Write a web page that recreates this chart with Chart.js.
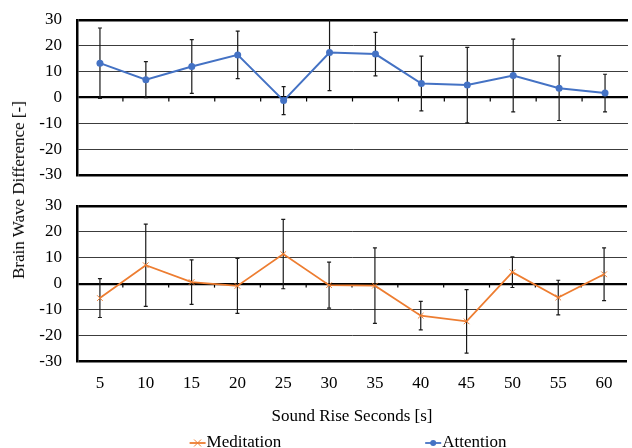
<!DOCTYPE html>
<html>
<head>
<meta charset="utf-8">
<script src="https://cdn.jsdelivr.net/npm/chart.js@4/dist/chart.umd.min.js"></script>
<style>
  html, body { margin: 0; padding: 0; background: #fff; }
  #wrap { position: relative; width: 632px; height: 448px; overflow: hidden; }
  #chart-top { position: absolute; left: 0; top: 0; }
  #chart-bottom { position: absolute; left: 0; top: 190px; }
  #y-title {
    position: absolute; left: 19px; top: 190px;
    transform: translate(-50%, -50%) rotate(-90deg);
    font-family: "Liberation Serif", serif; font-size: 17px; color: #000;
    white-space: nowrap;
  }
</style>
</head>
<body>
<div id="wrap">
  <canvas id="chart-top" width="632" height="190"></canvas>
  <canvas id="chart-bottom" width="632" height="258"></canvas>
  <div id="y-title">Brain Wave Difference [-]</div>
</div>
<script>
// Dati
const seconds = ['5', '10', '15', '20', '25', '30', '35', '40', '45', '50', '55', '60'];
const attentionMean = [13.3, 6.9, 12.0, 16.5, -1.2, 17.4, 16.8, 5.4, 4.8, 8.5, 3.6, 1.7];
const attentionErr = [13.6, 7.0, 10.4, 9.2, 5.4, 14.7, 8.4, 10.6, 14.6, 14.1, 12.5, 7.3];
const meditationMean = [-5.6, 7.1, 0.6, -0.9, 11.4, -0.6, -0.8, -12.4, -14.6, 4.4, -5.4, 3.6];
const meditationErr = [7.5, 15.9, 8.6, 10.6, 13.4, 8.9, 14.6, 5.5, 12.3, 5.9, 6.7, 10.2];
const yTicks = [-30, -20, -10, 0, 10, 20, 30];

const BLUE = '#4472C4';
const ORANGE = '#ED7D31';
const FONT = 'Liberation Serif';

// Barre d'errore (media +/- errore)
const errorBarPlugin = {
    id: 'errorBars',
    beforeDatasetsDraw(chart) {
        const { ctx, chartArea, scales } = chart;
        ctx.save();
        ctx.beginPath();
        ctx.rect(chartArea.left, chartArea.top, chartArea.right - chartArea.left, chartArea.bottom - chartArea.top);
        ctx.clip();
        ctx.strokeStyle = '#1a1a1a';
        ctx.lineWidth = 1.2;
        chart.data.datasets.forEach(ds => {
            if (!ds.errorBars) return;
            ds.data.forEach((v, i) => {
                const px = scales.x.getPixelForValue(i);
                const top = scales.y.getPixelForValue(v + ds.errorBars[i]);
                const bot = scales.y.getPixelForValue(v - ds.errorBars[i]);
                ctx.beginPath();
                ctx.moveTo(px, top); ctx.lineTo(px, bot);
                ctx.moveTo(px - 2, top); ctx.lineTo(px + 2, top);
                ctx.moveTo(px - 2, bot); ctx.lineTo(px + 2, bot);
                ctx.stroke();
            });
        });
        ctx.restore();
    }
};

// Tacche dell'asse x sulla linea dello zero
const zeroTicksPlugin = {
    id: 'zeroTicks',
    beforeDatasetsDraw(chart) {
        const { ctx, scales } = chart;
        const y0 = scales.y.getPixelForValue(0);
        ctx.save();
        ctx.strokeStyle = '#000';
        ctx.lineWidth = 1.2;
        for (let i = 0; i < seconds.length - 1; i++) {
            const px = (scales.x.getPixelForValue(i) + scales.x.getPixelForValue(i + 1)) / 2;
            ctx.beginPath();
            ctx.moveTo(px, y0);
            ctx.lineTo(px, y0 + 4);
            ctx.stroke();
        }
        ctx.restore();
    }
};

// Legenda stile Excel (linea + marcatore)
const legendItems = [
    { label: 'Meditation', color: ORANGE, marker: 'x' },
    { label: 'Attention', color: BLUE, marker: 'o' }
];
const legendPlugin = {
    id: 'excelLegend',
    afterDraw(chart) {
        const { ctx, chartArea } = chart;
        ctx.save();
        ctx.font = '17px "' + FONT + '"';
        ctx.textBaseline = 'middle';
        const gap = 144;
        const widths = legendItems.map(it => 17 + ctx.measureText(it.label).width);
        const total = widths.reduce((a, b) => a + b, 0) + gap * (legendItems.length - 1);
        let x = (chartArea.left + chartArea.right) / 2 - total / 2 - 4;
        const y = chart.height - 5;
        legendItems.forEach((it, k) => {
            ctx.strokeStyle = it.color;
            ctx.fillStyle = it.color;
            ctx.lineWidth = 1.8;
            ctx.beginPath();
            ctx.moveTo(x, y); ctx.lineTo(x + 16, y);
            ctx.stroke();
            const cx = x + 8;
            if (it.marker === 'o') {
                ctx.beginPath();
                ctx.arc(cx, y, 3, 0, Math.PI * 2);
                ctx.fill();
            } else {
                ctx.lineWidth = 1;
                ctx.beginPath();
                ctx.moveTo(cx - 3.5, y - 3.5); ctx.lineTo(cx + 3.5, y + 3.5);
                ctx.moveTo(cx - 3.5, y + 3.5); ctx.lineTo(cx + 3.5, y - 3.5);
                ctx.stroke();
            }
            ctx.fillStyle = '#000';
            ctx.fillText(it.label, x + 17, y);
            x += widths[k] + gap;
        });
        ctx.restore();
    }
};

function yScale() {
    return {
        min: -30,
        max: 30,
        afterBuildTicks: s => { s.ticks = yTicks.map(v => ({ value: v })); },
        afterFit: s => { s.width = 77; },
        ticks: { color: '#000', font: { family: FONT, size: 17 }, padding: 0, autoSkip: false },
        grid: {
            drawTicks: true,
            tickLength: 15,
            tickColor: 'rgba(0,0,0,0)',
            color: c => (c.tick && (c.tick.value === 0 || Math.abs(c.tick.value) === 30)) ? '#000' : '#3c3c3c',
            lineWidth: c => {
                if (!c.tick) return 1;
                if (Math.abs(c.tick.value) === 30) return 2.5;
                if (c.tick.value === 0) return 2.2;
                return 1;
            }
        },
        border: { display: true, color: '#000', width: 2.5 }
    };
}

function creaGrafico(canvasId, dataset, showX, padding, extraPlugins) {
    const ctx = document.getElementById(canvasId).getContext('2d');
    return new Chart(ctx, {
        type: 'line',
        data: { labels: seconds, datasets: [dataset] },
        options: {
            responsive: false,
            animation: false,
            devicePixelRatio: 1,
            layout: { padding: padding },
            plugins: { legend: { display: false }, tooltip: { enabled: false } },
            scales: {
                x: {
                    display: showX,
                    offset: true,
                    grid: { display: false, drawTicks: false },
                    border: { display: false },
                    ticks: { color: '#000', font: { family: FONT, size: 17 }, padding: 12, maxRotation: 0, autoSkip: false },
                    title: {
                        display: true,
                        text: 'Sound Rise Seconds [s]',
                        color: '#000',
                        font: { family: FONT, size: 17 },
                        padding: { top: 1, bottom: 0 }
                    }
                },
                y: yScale()
            }
        },
        plugins: [zeroTicksPlugin, errorBarPlugin].concat(extraPlugins)
    });
}

creaGrafico('chart-top', {
    label: 'Attention',
    data: attentionMean,
    errorBars: attentionErr,
    borderColor: BLUE,
    backgroundColor: BLUE,
    borderWidth: 2,
    pointStyle: 'circle',
    pointRadius: 3.5,
    pointBorderWidth: 0,
    tension: 0
}, false, { top: 20, bottom: 15, left: 0, right: 0 }, []);

creaGrafico('chart-bottom', {
    label: 'Meditation',
    data: meditationMean,
    errorBars: meditationErr,
    borderColor: ORANGE,
    backgroundColor: ORANGE,
    borderWidth: 1.8,
    pointStyle: 'crossRot',
    pointRadius: 4,
    pointBorderWidth: 1,
    tension: 0
}, true, { top: 16, bottom: 21, left: 0, right: 0 }, [legendPlugin]);
</script>
</body>
</html>
